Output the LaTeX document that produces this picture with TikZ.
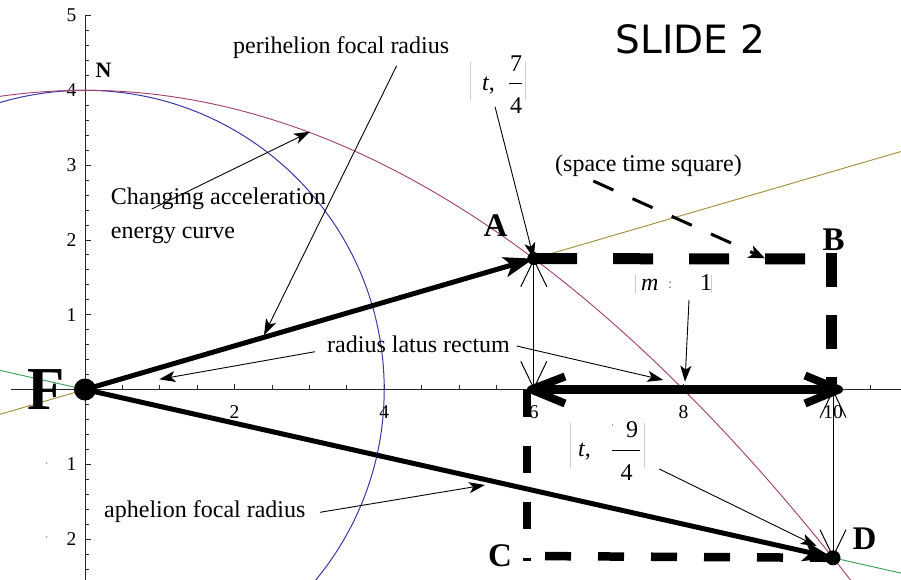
\documentclass[tikz,border=0pt]{standalone}
\usepackage{fontspec}
\setmainfont{Liberation Serif}
\newfontfamily\slidefont{DejaVu Sans}
\usetikzlibrary{arrows.meta,calc}
\definecolor{circblue}{RGB}{55,55,165}
\definecolor{parab}{RGB}{160,60,110}
\definecolor{olivec}{RGB}{160,140,50}
\definecolor{greenc}{RGB}{50,160,80}
\definecolor{bracegray}{RGB}{205,205,205}
\begin{document}
\begin{tikzpicture}[x=1pt,y=-1pt,
  lbl/.style={font=\fontsize{24}{28}\selectfont, inner sep=0pt, anchor=base west},
  mlbl/.style={font=\fontsize{24}{28}\selectfont, inner sep=0pt},
  ticklbl/.style={font=\fontsize{19.5}{21}\selectfont, inner sep=0pt},
  letter/.style={font=\fontsize{33}{33}\selectfont\bfseries, inner sep=0pt},
  thinarrow/.style={line width=0.9pt, -{Stealth[length=16pt,width=11pt,inset=4pt]}},
  fatarrow/.style={line width=5pt, -{Stealth[length=30pt,width=20pt,inset=7pt]}},
  barbarrow/.style={line width=1pt, {Straight Barb[length=27pt,width=26pt]}-{Straight Barb[length=27pt,width=26pt]}},
  bigdash/.style={line width=11pt},
  smalldash/.style={line width=8.5pt},
  chevron/.style={line width=8pt, line join=round},
  axisline/.style={line width=0.8pt, black!85},
  dot/.style={circle, fill=black, inner sep=0pt},
  brace/.style={bracegray, line width=0.6pt},
]
\useasboundingbox (0,0) rectangle (901,579);

\begin{scope}[shift={(85pt,-389.5pt)}, x=74.8pt, y=74.8pt]
  % axes
  \draw[axisline] (-0.99,0) -- (10.95,0);
  \draw[axisline] (0,-2.6) -- (0,5);
  \foreach \i in {1,...,21} \draw[axisline] ({\i*0.5},0) -- ({\i*0.5},0.055);
  \foreach \k in {2,4,...,10} \draw[axisline] (\k,0) -- (\k,0.08);
  \foreach \j in {-12,...,25} \draw[axisline] (0,{\j*0.2}) -- (0.055,{\j*0.2});
  \foreach \k in {-2,-1,1,2,3,4,5} \draw[axisline] (0,\k) -- (0.08,\k);
  % tick labels
  \foreach \k in {2,4,6,8,10} \node[ticklbl] (xl\k) at (\k,-0.3) {\k};
  \foreach \k in {1,...,5} \node[ticklbl] (yl\k) at (-0.18,\k) {\k};
  \node[ticklbl] (ylm1) at (-0.18,-1) {1};
  \node[ticklbl] (ylm2) at (-0.18,-2) {2};
  \node[ticklbl, font=\fontsize{9}{9}\selectfont] (ydm1) at (-0.51,-1) {·};
  \node[ticklbl, font=\fontsize{9}{9}\selectfont] (ydm2) at (-0.51,-2) {·};
  % curves
  \begin{scope}
    \clip (-1.137,-2.534) rectangle (10.91,5.21);
    \draw[circblue, line width=1pt] (0,0) circle (4);
    \draw[parab, line width=0.9pt, domain=-1.2:10.3, samples=120, smooth] plot (\x,{4-\x*\x/16});
    \draw[olivec, line width=0.9pt] (-1.2,-0.35) -- (11,3.2083);
    \draw[greenc, line width=0.9pt] (-1.2,0.27) -- (11,-2.475);
  \end{scope}
  % key points
  \coordinate (pF) at (0,0);
  \coordinate (pA) at (6,1.75);
  \coordinate (pD) at (10,-2.25);
  \coordinate (X6) at (6,0);
  \coordinate (X8) at (8,0);
  \coordinate (X10) at (10,0);
\end{scope}

% thick dashed "space time square"
\coordinate (Bc) at (831,259);
\coordinate (Btop) at (831,253);
\coordinate (B0) at (831,389.5);
\coordinate (C6) at (527,389.5);
\coordinate (Cc) at (527,561);
\coordinate (Cc2) at (527,556);
\draw[bigdash, dash pattern=on 40pt off 36pt, dash phase=72.8pt] (pA) -- (Bc);
\draw[bigdash, dash pattern=on 34pt off 28pt] (Btop) -- (B0);
\draw[smalldash, dash pattern=on 27pt off 29pt] (C6) -- (Cc);
\draw[smalldash, dash pattern=on 26pt off 27pt, dash phase=35pt] (Cc2) -- (pD);

% thick double arrow on the axis
\coordinate (L6) at (531,389.5);
\coordinate (R10) at (839,389.5);
\draw[line width=9pt] (L6) -- (R10);
\draw[chevron] ($(L6)+(34,-13)$) -- (L6) -- ($(L6)+(34,14)$);
\draw[chevron] ($(R10)+(-34,-14)$) -- (R10) -- ($(R10)+(-34,14)$);

% thin double-barbed verticals
\draw[barbarrow] (X6) -- (pA);
\draw[barbarrow] (X10) -- (pD);

% focal radii
\draw[fatarrow] (pF) -- (pA);
\draw[fatarrow] (pF) -- (pD);

% annotation arrows
\coordinate (periT) at (396.7,65.7);   \coordinate (periH) at (264,335);
\coordinate (chgT) at (151.7,209);     \coordinate (chgH) at (310,131.7);
\coordinate (latLT) at (315,351.7);    \coordinate (latLH) at (159.3,379.3);
\coordinate (latRT) at (516.7,346);    \coordinate (latRH) at (663.3,380);
\coordinate (aphT) at (320,512.3);     \coordinate (aphH) at (485,485);
\coordinate (t7T) at (495,106.7);
\coordinate (m1T) at (689,300);        \coordinate (m1H) at (685,381.7);
\coordinate (t9T) at (659.3,469);      \coordinate (t9H) at (816.7,546);
\coordinate (stsT) at (593.3,181);     \coordinate (stsH) at (765,258.3);
\draw[thinarrow] (periT) -- (periH);
\draw[thinarrow] (chgT) -- (chgH);
\draw[thinarrow] (latLT) -- (latLH);
\draw[thinarrow] (latRT) -- (latRH);
\draw[thinarrow] (aphT) -- (aphH);
\draw[thinarrow] (t7T) -- (pA);
\draw[thinarrow] (m1T) -- (m1H);
\draw[thinarrow] (t9T) -- (t9H);
\draw[line width=3pt, dash pattern=on 22pt off 21pt, -{Stealth[length=16pt,width=13pt,inset=4pt]}] (stsT) -- (stsH);

% dots
\node[dot, minimum size=22pt] (F) at (pF) {};
\node[dot, minimum size=13pt] (A) at (pA) {};
\node[dot, minimum size=15pt] (D) at (pD) {};

% text labels
\node[lbl] (peri) at (233,53) {perihelion focal radius};
\node[lbl, align=left, font=\fontsize{24}{34}\selectfont] (chg) at (110.7,238) {Changing acceleration\\energy curve};
\node[lbl] (lat) at (327,352) {radius latus rectum};
\node[lbl] (aph) at (104,517) {aphelion focal radius};
\node[lbl] (sts) at (555,171) {(space time square)};

% {t, 7/4}
\draw[brace] (470.7,62) -- (470.7,100);
\draw[brace] (525,62) -- (525,100);
\node[mlbl, anchor=base west] (t7) at (482,90) {\textit{t},};
\node[mlbl] (n7) at (516,64) {7};
\node[mlbl] (d7) at (516,106) {4};
\draw[line width=0.8pt] (509,83.5) -- (522,83.5);

% {m : 1}
\draw[brace] (635.7,275) -- (635.7,293);
\draw[brace] (711.7,275) -- (711.7,293);
\node[mlbl, anchor=base west] (mm) at (641,290.5) {\textit{m}};
\node[mlbl, font=\fontsize{14}{14}\selectfont, text=black!60] (mc) at (670,285) {:};
\node[mlbl, anchor=base west] (m1) at (700,290.5) {1};

% {t, -9/4}
\draw[brace] (570.7,423) -- (570.7,468);
\draw[brace] (644,423) -- (644,468);
\node[mlbl, anchor=base west] (t9) at (578,456) {\textit{t},};
\node[mlbl, font=\fontsize{9}{9}\selectfont] (t9dot) at (612.7,427) {·};
\node[mlbl] (n9) at (632,430) {9};
\node[mlbl] (d9) at (626.5,473) {4};
\draw[line width=0.8pt] (612,450) -- (640,450);

% point letters
\node[letter] (lA) at (495.5,226) {A};
\node[letter] (lB) at (833.5,240) {B};
\node[letter] (lC) at (500,556) {C};
\node[letter] (lD) at (864.5,539) {D};
\node[letter, font=\fontsize{61}{61}\selectfont\bfseries] (lF) at (46,390) {F};
\node[letter, font=\fontsize{22}{22}\selectfont\bfseries] (lN) at (103.5,70.5) {N};

% title
\node[inner sep=0pt] (slide) at (690.5,39) {\slidefont\fontsize{39}{39}\selectfont SLIDE 2};
\end{tikzpicture}
\end{document}
